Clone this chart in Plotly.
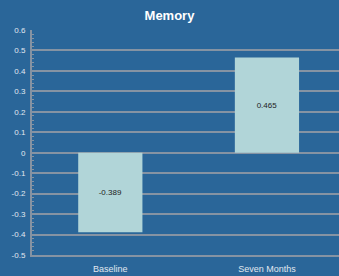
import plotly.graph_objects as go

categories = ["Baseline", "Seven Months"]
values = [-0.389, 0.465]
value_labels = ["-0.389", "0.465"]
y_ticks = [0.6, 0.5, 0.4, 0.3, 0.2, 0.1, 0, -0.1, -0.2, -0.3, -0.4, -0.5]

BG = "#2a6699"
GRID = "#8593a3"

fig = go.Figure()
fig.add_trace(go.Bar(
    x=categories, y=values, text=value_labels, textposition="inside",
    insidetextanchor="middle",
    textfont=dict(family="Liberation Sans, Arial, sans-serif", size=8, color="#222222"),
    marker=dict(color="#b1d5d8", line=dict(width=0)),
    width=0.41,
))

fig.update_layout(
    width=339, height=276,
    margin=dict(l=32, r=0, t=30, b=21),
    paper_bgcolor=BG, plot_bgcolor=BG,
    showlegend=False,
    title=dict(text="<b>Memory</b>", x=0.5, xanchor="center", y=0.945, yanchor="middle",
               font=dict(family="Liberation Sans, Arial, sans-serif", size=13, color="white")),
    font=dict(family="Liberation Sans, Arial, sans-serif", size=8, color="#e0e8f0"),
)
fig.update_xaxes(
    range=[-0.5, 1.46], showgrid=False, showline=True, linecolor=GRID, linewidth=2,
    ticks="", ticklabelstandoff=4, tickfont=dict(size=9, color="#e0e8f0"), fixedrange=True,
)
fig.update_yaxes(
    range=[-0.5, 0.6], tickvals=y_ticks, ticktext=[str(v) for v in y_ticks],
    showgrid=True, gridcolor=GRID, gridwidth=1.5,
    zeroline=True, zerolinecolor=GRID, zerolinewidth=2,
    showline=True, linecolor=GRID, linewidth=2,
    ticks="inside", ticklen=3, tickcolor=GRID, ticklabelstandoff=3,
    minor=dict(ticks="inside", dtick=0.02, ticklen=2, tickcolor=GRID, showgrid=False),
    tickfont=dict(size=8, color="#e0e8f0"), fixedrange=True,
)

fig.write_html("out.html", config={"displayModeBar": False},
               post_script="document.body.style.margin='0';document.body.style.background='%s';" % BG)
